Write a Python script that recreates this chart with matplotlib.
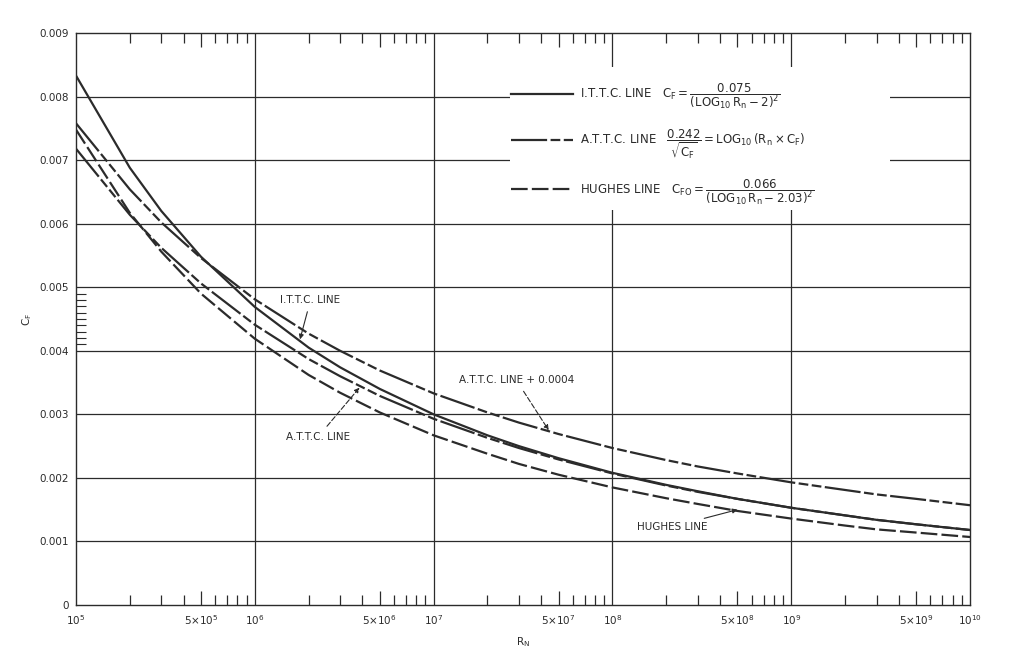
import numpy as np
import matplotlib
matplotlib.use("Agg")
import matplotlib.pyplot as plt
from matplotlib.patches import Rectangle
from matplotlib.ticker import FixedLocator, NullFormatter

plt.rcParams["font.family"] = ["DejaVu Sans"]
plt.rcParams["mathtext.fontset"] = "dejavusans"
plt.rcParams["mathtext.default"] = "regular"
plt.rcParams["lines.scale_dashes"] = False

# values (Reynolds number vs friction coefficient)
rn = [1e5, 2e5, 3e5, 5e5, 1e6, 2e6, 3e6, 5e6, 1e7, 2e7, 3e7, 5e7,
      1e8, 2e8, 3e8, 5e8, 1e9, 2e9, 3e9, 5e9, 1e10]
ittc = [0.00833, 0.00688, 0.00620, 0.00548, 0.00469, 0.00405, 0.00374,
        0.00340, 0.00300, 0.00267, 0.00250, 0.00231, 0.00208, 0.00189,
        0.00179, 0.00167, 0.00153, 0.00141, 0.00134, 0.00127, 0.00118]
attc = [0.00718, 0.00614, 0.00562, 0.00506, 0.00441, 0.00387, 0.00360,
        0.00329, 0.00293, 0.00263, 0.00247, 0.00229, 0.00207, 0.00188,
        0.00178, 0.00167, 0.00153, 0.00141, 0.00134, 0.00127, 0.00118]
attc_plus = [0.00758, 0.00654, 0.00602, 0.00546, 0.00481, 0.00427, 0.00400,
             0.00369, 0.00333, 0.00303, 0.00287, 0.00269, 0.00247, 0.00228,
             0.00218, 0.00207, 0.00193, 0.00181, 0.00174, 0.00167, 0.00157]
hughes = [0.00748, 0.00617, 0.00556, 0.00490, 0.00419, 0.00362, 0.00334,
          0.00303, 0.00267, 0.00238, 0.00222, 0.00205, 0.00185, 0.00168,
          0.00159, 0.00148, 0.00136, 0.00125, 0.00119, 0.00114, 0.00107]

ytick_vals = [0, 0.001, 0.002, 0.003, 0.004, 0.005, 0.006, 0.007, 0.008, 0.009]
ytick_labels = ["0", "0.001", "0.002", "0.003", "0.004", "0.005", "0.006",
                "0.007", "0.008", "0.009"]
xtick_vals = [1e5, 5e5, 1e6, 5e6, 1e7, 5e7, 1e8, 5e8, 1e9, 5e9, 1e10]
xtick_labels = [r"$10^5$", r"$5{\times}10^5$", r"$10^6$", r"$5{\times}10^6$",
                r"$10^7$", r"$5{\times}10^7$", r"$10^8$", r"$5{\times}10^8$",
                r"$10^9$", r"$5{\times}10^9$", r"$10^{10}$"]

ink = "#2b2b2b"
fs = 7.5

fig = plt.figure(figsize=(10.13, 6.68), dpi=100)
ax = fig.add_axes([0.075, 0.0943, 0.8826, 0.8563])
ax.set_xscale("log")
ax.set_xlim(1e5, 1e10)
ax.set_ylim(0, 0.009)

# grid
for yv in ytick_vals[1:-1]:
    ax.axhline(yv, color=ink, lw=0.9, zorder=1)
for d in [1e6, 1e7, 1e8, 1e9]:
    ax.axvline(d, color=ink, lw=0.9, zorder=1)

# blank area behind the legend (grid is interrupted there)
ax.add_patch(Rectangle((0.485, 0.69), 0.426, 0.251, transform=ax.transAxes,
                       facecolor="white", edgecolor="none", zorder=2))

attc_dash = (0, (26, 2.5, 7, 2.5, 7, 2.5))
l1, = ax.plot(rn, ittc, color=ink, lw=1.6, zorder=3,
              label=r"I.T.T.C. LINE   $C_F = \dfrac{0.075}{(LOG_{10}\,R_n - 2)^2}$")
l2, = ax.plot(rn, attc, color=ink, lw=1.6, linestyle=attc_dash, zorder=3,
              label=r"A.T.T.C. LINE   $\dfrac{0.242}{\sqrt{C_F}} = LOG_{10}\,(R_n \times C_F)$")
l3, = ax.plot(rn, hughes, color=ink, lw=1.6, linestyle=(0, (12, 3)), zorder=3,
              label=r"HUGHES LINE   $C_{FO} = \dfrac{0.066}{(LOG_{10}\,R_n - 2.03)^2}$")
ax.plot(rn, attc_plus, color=ink, lw=1.6, linestyle=attc_dash, zorder=3)

leg = ax.legend(handles=[l1, l2, l3], loc="upper left",
                bbox_to_anchor=(0.483, 0.922), fontsize=8.5, frameon=False,
                handlelength=5.2, handletextpad=0.6, labelspacing=1.35,
                borderpad=0.3, borderaxespad=0)
leg.set_zorder(4)
for t in leg.get_texts():
    t.set_color(ink)

# curve labels
ax.annotate("I.T.T.C. LINE", xy=(1.79e6, 0.00418), xytext=(2.05e6, 0.0048),
            fontsize=fs, color=ink, ha="center", va="center",
            arrowprops=dict(arrowstyle="-|>", lw=0.8, color=ink, mutation_scale=7,
                            shrinkA=3, shrinkB=0))
ax.annotate("A.T.T.C. LINE", xy=(3.85e6, 0.00342), xytext=(2.25e6, 0.00264),
            fontsize=fs, color=ink, ha="center", va="center",
            arrowprops=dict(arrowstyle="-|>", lw=0.8, color=ink, mutation_scale=7,
                            linestyle="--", shrinkA=3, shrinkB=0))
ax.annotate("A.T.T.C. LINE + 0.0004", xy=(4.4e7, 0.00275), xytext=(2.9e7, 0.00354),
            fontsize=fs, color=ink, ha="center", va="center",
            arrowprops=dict(arrowstyle="-|>", lw=0.8, color=ink, mutation_scale=7,
                            linestyle="--", shrinkA=3, shrinkB=0))
ax.annotate("HUGHES LINE", xy=(5.0e8, 0.00150), xytext=(2.15e8, 0.00123),
            fontsize=fs, color=ink, ha="center", va="center",
            arrowprops=dict(arrowstyle="-|>", lw=0.8, color=ink, mutation_scale=7,
                            shrinkA=2, shrinkB=0))

# ticks
ax.set_yticks(ytick_vals)
ax.set_yticklabels(ytick_labels)
ax.set_xticks(xtick_vals)
ax.set_xticklabels(xtick_labels)
ax.tick_params(axis="both", which="major", length=0, labelsize=fs,
               labelcolor=ink, pad=5)
ax.tick_params(axis="x", which="major", pad=6)

minor_x = [m * 10.0 ** e for e in range(5, 10) for m in [2, 3, 4, 6, 7, 8, 9]]
ax.xaxis.set_minor_locator(FixedLocator(minor_x))
ax.xaxis.set_minor_formatter(NullFormatter())
ax.tick_params(axis="x", which="minor", direction="in", length=7, width=0.9,
               color=ink, top=True, bottom=True)
# longer ticks at the 5 marks
for e in range(5, 10):
    for yy, sign in [(0, 1), (0.009, -1)]:
        ax.plot([5 * 10.0 ** e] * 2, [yy, yy + sign * 0.00022], color=ink,
                lw=0.9, zorder=2, solid_capstyle="butt")

minor_y = [0.004 + 0.0001 * i for i in range(1, 10)]
ax.yaxis.set_minor_locator(FixedLocator(minor_y))
ax.tick_params(axis="y", which="minor", direction="in", length=7, width=0.8,
               color=ink, left=True, right=False)

for s in ax.spines.values():
    s.set_color(ink)
    s.set_linewidth(1.0)

ax.set_xlabel(r"$R_N$", fontsize=fs, color=ink, labelpad=6)
ax.set_ylabel(r"$C_F$", fontsize=fs, color=ink, labelpad=4)

fig.savefig("out.png", dpi=100, facecolor="white")
